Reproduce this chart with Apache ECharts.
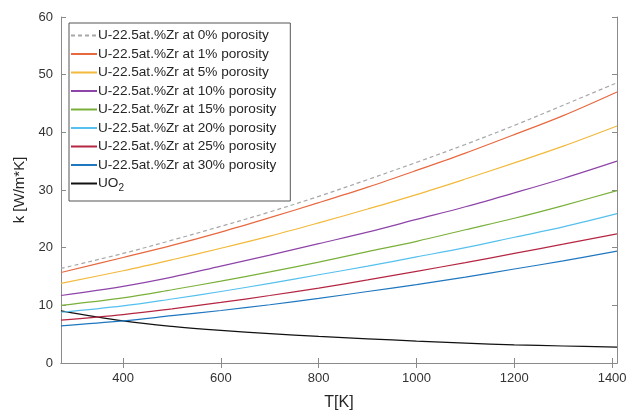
<!DOCTYPE html>
<html>
<head>
<meta charset="utf-8">
<script src="https://cdn.jsdelivr.net/npm/echarts@6/dist/echarts.min.js"></script>
<style>html,body{margin:0;padding:0;background:#fff}#c{width:631px;height:416px}</style>
</head>
<body>
<div id="c"></div>
<script>
// Temperature grid [K]
var temps = [273, 400, 500, 600, 700, 800, 900, 1000, 1100, 1200, 1300, 1410];
// Thermal conductivity k [W/m*K]
var p0  = [16.4, 19.0, 21.3, 23.7, 26.2, 28.9, 31.8, 34.8, 37.9, 41.2, 44.7, 48.6];
var p1  = [15.7, 18.3, 20.4, 22.7, 25.2, 27.8, 30.5, 33.4, 36.4, 39.6, 42.9, 47.0];
var p5  = [13.8, 16.0, 17.9, 19.9, 22.0, 24.3, 26.7, 29.2, 31.9, 34.7, 37.6, 41.1];
var p10 = [11.7, 13.3, 14.9, 16.8, 18.7, 20.7, 22.7, 24.9, 27.1, 29.5, 32.0, 35.0];
var p15 = [10.0, 11.3, 12.7, 14.2, 15.8, 17.5, 19.3, 21.1, 23.1, 25.1, 27.3, 29.9];
var p20 = [8.8, 9.9, 11.1, 12.4, 13.8, 15.3, 16.8, 18.4, 20.0, 21.8, 23.6, 25.9];
var p25 = [7.45, 8.4, 9.4, 10.5, 11.7, 13.0, 14.4, 15.9, 17.4, 19.0, 20.6, 22.4];
var p30 = [6.45, 7.3, 8.2, 9.1, 10.1, 11.2, 12.4, 13.6, 14.9, 16.3, 17.7, 19.4];
var uo2 = [9.05, 7.3, 6.35, 5.65, 5.1, 4.6, 4.2, 3.8, 3.45, 3.15, 2.95, 2.75];

var names = [
  'U-22.5at.%Zr at 0% porosity',
  'U-22.5at.%Zr at 1% porosity',
  'U-22.5at.%Zr at 5% porosity',
  'U-22.5at.%Zr at 10% porosity',
  'U-22.5at.%Zr at 15% porosity',
  'U-22.5at.%Zr at 20% porosity',
  'U-22.5at.%Zr at 25% porosity',
  'U-22.5at.%Zr at 30% porosity',
  'UO2'
];
var values = [p0, p1, p5, p10, p15, p20, p25, p30, uo2];
var colors = ['#a8a8a8', '#e8683f', '#f2b93b', '#8e44a8', '#7ab03a', '#55c0ee', '#b52642', '#1f77c0', '#111111'];
var xTicks = [400, 600, 800, 1000, 1200, 1400];

function pairs(v) { return temps.map(function (t, i) { return [t, v[i]]; }); }

var series = names.map(function (n, i) {
  return {
    name: n, type: 'line', data: pairs(values[i]),
    showSymbol: false, symbol: 'none', smooth: 0.35,
    lineStyle: { color: colors[i], width: 1.2, type: i === 0 ? [4, 3] : 'solid' },
    itemStyle: { color: colors[i] },
    z: 10 - i
  };
});

var font = 'Liberation Sans, Arial, Helvetica, sans-serif';
var axisCol = '#8a8a8a';
var chart = echarts.init(document.getElementById('c'), null, { renderer: 'canvas' });
chart.setOption({
  animation: false,
  backgroundColor: '#fff',
  grid: { left: 61, top: 17, right: 14, bottom: 52, containLabel: false },
  legend: {
    orient: 'vertical', left: 69, top: 23,
    backgroundColor: '#fff', borderColor: '#555', borderWidth: 1,
    padding: [5, 14, 8, 1],
    itemWidth: 26, itemHeight: 12, itemGap: 3.5,
    itemStyle: { opacity: 0 },
    textStyle: {
      fontFamily: font, fontSize: 13.6, color: '#262626', lineHeight: 15,
      padding: [0, 0, 0, -4],
      rich: { n: { fontFamily: font, fontSize: 13.6, color: '#262626', lineHeight: 15 },
              s: { fontFamily: font, fontSize: 10, color: '#262626', padding: [9, 0, 0, 0] } }
    },
    formatter: function (n) { return n === 'UO2' ? '{n|UO}{s|2}' : n; },
    data: names
  },
  xAxis: [{
    type: 'value', min: 273, max: 1410,
    name: 'T[K]', nameLocation: 'middle', nameGap: 32,
    nameTextStyle: { fontFamily: font, fontSize: 16, color: '#262626' },
    axisLine: { show: true, lineStyle: { color: axisCol, width: 1 } },
    axisTick: { show: true, inside: true, length: 5, customValues: xTicks, lineStyle: { color: axisCol } },
    axisLabel: { customValues: xTicks, fontFamily: font, fontSize: 13, color: '#333', margin: 9,
                 formatter: function (v) { return String(v); } },
    splitLine: { show: false }
  }, {
    type: 'value', min: 273, max: 1410, position: 'top',
    axisLine: { show: true, lineStyle: { color: axisCol, width: 1 } },
    axisTick: { show: true, inside: true, length: 5, customValues: xTicks, lineStyle: { color: axisCol } },
    axisLabel: { show: false }, splitLine: { show: false }
  }],
  yAxis: [{
    type: 'value', min: 0, max: 60, interval: 10,
    name: 'k [W/m*K]', nameLocation: 'middle', nameGap: 28, nameRotate: 90,
    nameTextStyle: { fontFamily: font, fontSize: 15, color: '#262626' },
    axisLine: { show: true, lineStyle: { color: axisCol, width: 1 } },
    axisTick: { show: true, inside: true, length: 5, lineStyle: { color: axisCol } },
    axisLabel: { fontFamily: font, fontSize: 13, color: '#333', margin: 8 },
    splitLine: { show: false }
  }, {
    type: 'value', min: 0, max: 60, interval: 10, position: 'right',
    axisLine: { show: true, lineStyle: { color: axisCol, width: 1 } },
    axisTick: { show: true, inside: true, length: 5, lineStyle: { color: axisCol } },
    axisLabel: { show: false }, splitLine: { show: false }
  }],
  series: series
});
</script>
</body>
</html>
